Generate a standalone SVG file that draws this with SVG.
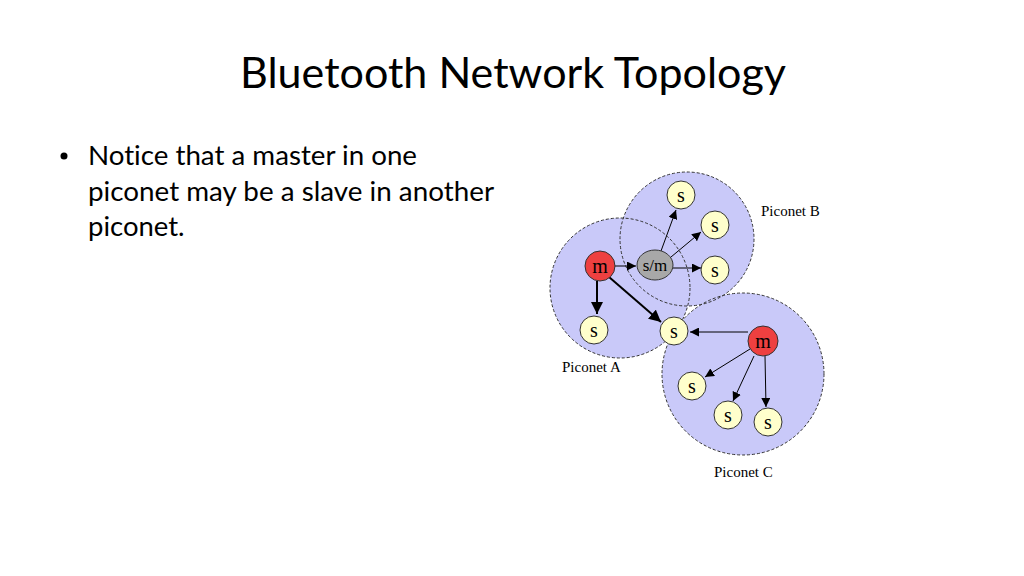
<svg xmlns="http://www.w3.org/2000/svg" width="1024" height="576" viewBox="0 0 1024 576">
<style>
.title{font-family:Lato,"Open Sans",sans-serif;font-size:43px;fill:#000}
.body{font-family:Lato,"Open Sans",sans-serif;font-size:27.5px;fill:#000;font-variant-ligatures:none;font-feature-settings:"liga" 0}
.net{fill:#c9c9f9;stroke:none}
.outline{fill:none;stroke:#333;stroke-width:1;stroke-dasharray:3 2}
.s{fill:#ffffcc;stroke:#333;stroke-width:1}
.m{fill:#ee4040;stroke:#333;stroke-width:1}
.sm{fill:#a8a8a8;stroke:#333;stroke-width:1}
.lbl{font-family:"Liberation Serif",serif;font-size:20px;text-anchor:middle;fill:#000}
.cap{font-family:"Liberation Serif",serif;font-size:15px;fill:#000}
.thin{stroke:#000;stroke-width:1;fill:none}
.thick{stroke:#000;stroke-width:2;fill:none}
</style>
<defs>
<marker id="ah" viewBox="0 0 10 10" refX="10" refY="5" markerWidth="9" markerHeight="9" markerUnits="userSpaceOnUse" orient="auto">
<path d="M0,0 L10,5 L0,10 z" fill="#000"/>
</marker>
<marker id="ahb" viewBox="0 0 10 10" refX="10" refY="5" markerWidth="6" markerHeight="6" orient="auto">
<path d="M0,0 L10,5 L0,10 z" fill="#000"/>
</marker>
</defs>
<rect width="1024" height="576" fill="#fff"/>
<text class="title" x="513" y="88" text-anchor="middle" textLength="546" lengthAdjust="spacingAndGlyphs">Bluetooth Network Topology</text>
<g id="bullet">
<circle cx="64" cy="156" r="3.5" fill="#000"/>
<text class="body" x="88" y="165" textLength="329" lengthAdjust="spacingAndGlyphs">Notice that a master in one</text>
<text class="body" x="88" y="201" textLength="406" lengthAdjust="spacingAndGlyphs">piconet may be a slave in another</text>
<text class="body" x="88" y="236">piconet.</text>
</g>
<g id="piconets">
<circle class="net" cx="620" cy="288" r="70"/>
<circle class="net" cx="687" cy="239" r="67"/>
<circle class="net" cx="743" cy="374" r="81"/>
<circle class="outline" cx="620" cy="288" r="70"/>
<circle class="outline" cx="687" cy="239" r="67"/>
<circle class="outline" cx="743" cy="374" r="81"/>
<text class="cap" x="761" y="216">Piconet B</text>
<text class="cap" x="562" y="372">Piconet A</text>
<text class="cap" x="714" y="477">Piconet C</text>
</g>
<g id="connectors">
<line class="thin" x1="614" y1="266" x2="636" y2="266" marker-end="url(#ah)"/>
<line class="thick" x1="597" y1="281" x2="597" y2="314" marker-end="url(#ahb)"/>
<line class="thick" x1="609" y1="277" x2="661" y2="322" marker-end="url(#ahb)"/>
<line class="thin" x1="661" y1="251" x2="676" y2="210" marker-end="url(#ah)"/>
<line class="thin" x1="671" y1="257" x2="701" y2="232" marker-end="url(#ah)"/>
<line class="thin" x1="673" y1="268" x2="701" y2="268" marker-end="url(#ah)"/>
<line class="thin" x1="748" y1="332" x2="690" y2="332" marker-end="url(#ah)"/>
<line class="thin" x1="750" y1="349" x2="705" y2="377" marker-end="url(#ah)"/>
<line class="thin" x1="754" y1="356" x2="733" y2="401" marker-end="url(#ah)"/>
<line class="thin" x1="765" y1="356" x2="766" y2="407" marker-end="url(#ah)"/>
</g>
<g id="mA"><circle class="m" cx="600" cy="266" r="15"/><text class="lbl" x="600" y="273">m</text></g>
<g id="smB"><ellipse class="sm" cx="655" cy="265" rx="18" ry="15"/><text class="lbl" x="655" y="271" style="font-size:17px">s/m</text></g>
<g id="sB1"><circle class="s" cx="681" cy="195" r="14"/><text class="lbl" x="681" y="202">s</text></g>
<g id="sB2"><circle class="s" cx="715" cy="225" r="14"/><text class="lbl" x="715" y="232">s</text></g>
<g id="sB3"><circle class="s" cx="715" cy="270" r="14"/><text class="lbl" x="715" y="277">s</text></g>
<g id="sA1"><circle class="s" cx="594" cy="330" r="14"/><text class="lbl" x="594" y="337">s</text></g>
<g id="sAC"><circle class="s" cx="674" cy="331" r="14"/><text class="lbl" x="674" y="338">s</text></g>
<g id="mC"><circle class="m" cx="763" cy="341" r="15"/><text class="lbl" x="763" y="348">m</text></g>
<g id="sC1"><circle class="s" cx="692" cy="386" r="14"/><text class="lbl" x="692" y="393">s</text></g>
<g id="sC2"><circle class="s" cx="728" cy="415" r="14"/><text class="lbl" x="728" y="422">s</text></g>
<g id="sC3"><circle class="s" cx="768" cy="422" r="14"/><text class="lbl" x="768" y="429">s</text></g>
</svg>
